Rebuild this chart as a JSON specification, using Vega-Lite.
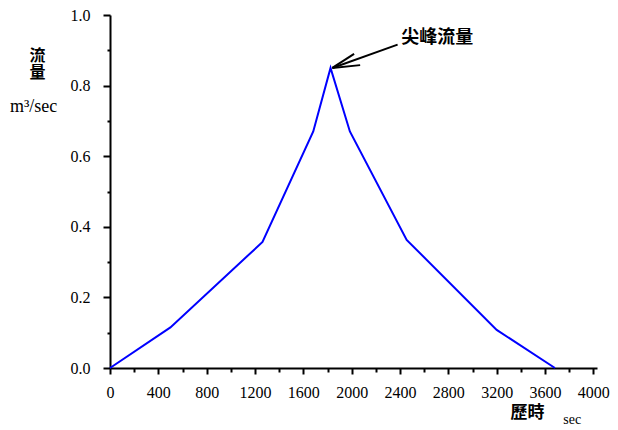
{
  "$schema": "https://vega.github.io/schema/vega-lite/v6.json",
  "width": 487,
  "height": 353,
  "autosize": {"type": "none"},
  "padding": {"left": 110, "top": 15, "right": 21, "bottom": 62},
  "background": "white",
  "config": {"view": {"stroke": null}},
  "datasets": {
    "flow": [
      {"t": 0, "q": 0},
      {"t": 500, "q": 0.115},
      {"t": 1262, "q": 0.357},
      {"t": 1682, "q": 0.67},
      {"t": 1825, "q": 0.85},
      {"t": 1985, "q": 0.67},
      {"t": 2455, "q": 0.363},
      {"t": 3200, "q": 0.108},
      {"t": 3682, "q": 0}
    ],
    "arrow": [
      {"t": 1840, "q": 0.85, "t2": 2380, "q2": 0.916},
      {"t": 1840, "q": 0.85, "t2": 2020, "q2": 0.89},
      {"t": 1840, "q": 0.85, "t2": 2070, "q2": 0.858}
    ],
    "peakLabel": [{"label": "尖峰流量", "t": 2410, "q": 0.935}],
    "unitY": [{"label": "m³/sec", "t": -828, "q": 0.725}],
    "unitX": [{"label": "sec", "t": 3751, "q": -0.147}]
  },
  "layer": [
    {
      "data": {"name": "flow"},
      "mark": {"type": "line", "color": "#0000ff", "strokeWidth": 2},
      "encoding": {
        "x": {
          "field": "t",
          "type": "quantitative",
          "scale": {"domain": [0, 4030], "nice": false, "zero": false},
          "axis": {
            "tickCount": 20,
            "format": "d",
            "labelExpr": "datum.value % 400 == 0 ? datum.label : ''",
            "grid": false,
            "domainColor": "black",
            "domainWidth": 2,
            "tickColor": "black",
            "tickWidth": 2,
            "tickSize": {"condition": {"test": "datum.value % 400 == 0", "value": 6}, "value": 4},
            "labelFont": "Liberation Serif",
            "labelFontSize": 16,
            "labelColor": "black",
            "labelPadding": 10,
            "labelFlush": false,
            "labelOverlap": false,
            "title": "歷時",
            "titleFont": "Noto Sans CJK TC",
            "titleFontSize": 17,
            "titleFontWeight": "bold",
            "titleColor": "black",
            "titleAngle": 0,
            "titleAlign": "center",
            "titleBaseline": "middle",
            "titleX": 417,
            "titleY": 44
          }
        },
        "y": {
          "field": "q",
          "type": "quantitative",
          "scale": {"domain": [0, 1], "nice": false},
          "axis": {
            "tickCount": 10,
            "labelExpr": "round(datum.value * 10) % 2 == 0 ? format(datum.value, '.1f') : ''",
            "grid": false,
            "domainColor": "black",
            "domainWidth": 2,
            "tickColor": "black",
            "tickWidth": 2,
            "tickSize": {"condition": {"test": "round(datum.value * 10) % 2 == 0", "value": 7}, "value": 3},
            "labelFont": "Liberation Serif",
            "labelFontSize": 16,
            "labelColor": "black",
            "labelPadding": 13,
            "labelFlush": false,
            "labelOverlap": false,
            "title": ["流", "量"],
            "titleFont": "Noto Sans CJK TC",
            "titleFontSize": 16,
            "titleFontWeight": "bold",
            "titleColor": "black",
            "titleLineHeight": 17,
            "titleAngle": 0,
            "titleAlign": "center",
            "titleBaseline": "middle",
            "titleX": -73,
            "titleY": 40
          }
        }
      }
    },
    {
      "data": {"name": "arrow"},
      "mark": {"type": "rule", "color": "black", "strokeWidth": 2},
      "encoding": {
        "x": {"field": "t", "type": "quantitative"},
        "y": {"field": "q", "type": "quantitative"},
        "x2": {"field": "t2"},
        "y2": {"field": "q2"}
      }
    },
    {
      "data": {"name": "peakLabel"},
      "mark": {"type": "text", "font": "Noto Sans CJK TC", "fontSize": 18, "fontWeight": "bold", "align": "left", "baseline": "middle", "color": "black"},
      "encoding": {
        "x": {"field": "t", "type": "quantitative"},
        "y": {"field": "q", "type": "quantitative"},
        "text": {"field": "label"}
      }
    },
    {
      "data": {"name": "unitY"},
      "mark": {"type": "text", "font": "Liberation Serif", "fontSize": 18, "align": "left", "baseline": "alphabetic", "color": "black"},
      "encoding": {
        "x": {"field": "t", "type": "quantitative"},
        "y": {"field": "q", "type": "quantitative"},
        "text": {"field": "label"}
      }
    },
    {
      "data": {"name": "unitX"},
      "mark": {"type": "text", "font": "Liberation Serif", "fontSize": 14, "align": "left", "baseline": "middle", "color": "black"},
      "encoding": {
        "x": {"field": "t", "type": "quantitative"},
        "y": {"field": "q", "type": "quantitative"},
        "text": {"field": "label"}
      }
    }
  ]
}
